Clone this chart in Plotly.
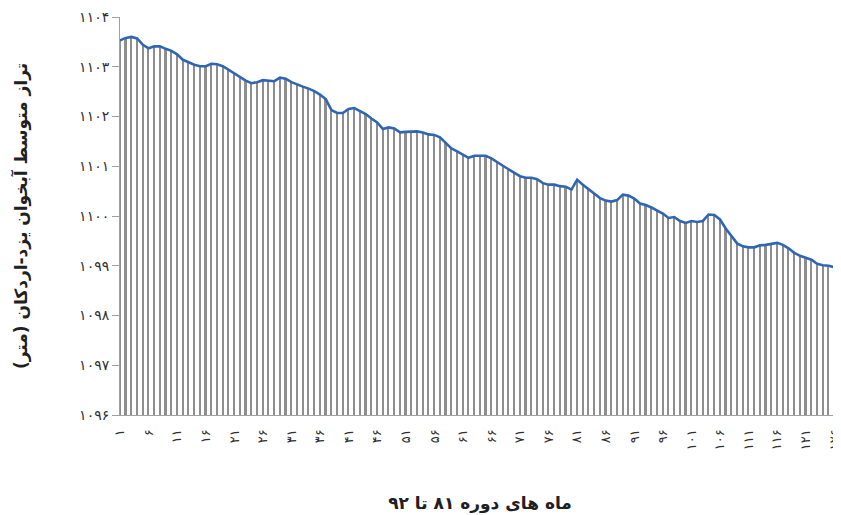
import plotly.graph_objects as go

months = list(range(1, 128))
levels = [
    1103.53, 1103.58, 1103.60, 1103.57, 1103.44, 1103.37, 1103.41, 1103.41, 1103.36, 1103.32,
    1103.25, 1103.14, 1103.09, 1103.04, 1103.01, 1103.01, 1103.06, 1103.05, 1103.01, 1102.94,
    1102.87, 1102.80, 1102.72, 1102.67, 1102.69, 1102.73, 1102.72, 1102.71, 1102.78, 1102.76,
    1102.69, 1102.64, 1102.60, 1102.56, 1102.51, 1102.44, 1102.35, 1102.13, 1102.07, 1102.07,
    1102.15, 1102.17, 1102.11, 1102.05, 1101.96, 1101.88, 1101.75, 1101.78, 1101.76, 1101.68,
    1101.69, 1101.69, 1101.70, 1101.68, 1101.64, 1101.63, 1101.58, 1101.47, 1101.36, 1101.30,
    1101.24, 1101.17, 1101.21, 1101.21, 1101.21, 1101.16, 1101.08, 1101.01, 1100.94, 1100.87,
    1100.80, 1100.77, 1100.77, 1100.74, 1100.66, 1100.63, 1100.63, 1100.60, 1100.59, 1100.53,
    1100.73, 1100.63, 1100.54, 1100.44, 1100.36, 1100.31, 1100.29, 1100.32, 1100.43, 1100.41,
    1100.35, 1100.25, 1100.22, 1100.17, 1100.11, 1100.05, 1099.96, 1099.98, 1099.90, 1099.86,
    1099.90, 1099.88, 1099.90, 1100.03, 1100.02, 1099.93, 1099.75, 1099.59, 1099.45, 1099.39,
    1099.37, 1099.37, 1099.41, 1099.42, 1099.44, 1099.46, 1099.42, 1099.35, 1099.26, 1099.20,
    1099.16, 1099.12, 1099.04, 1099.01, 1099.00, 1098.97, 1098.92,
]

fa_digits = str.maketrans("0123456789", "۰۱۲۳۴۵۶۷۸۹")
x_tick_vals = list(range(1, 127, 5))
x_tick_text = [str(v).translate(fa_digits) for v in x_tick_vals]
y_tick_vals = list(range(1096, 1105))
y_tick_text = [str(v).translate(fa_digits) for v in y_tick_vals]

y_title = "تراز متوسط آبخوان یزد-اردکان (متر)"
x_title = "ماه های دوره ۸۱ تا ۹۲"

fig = go.Figure()
fig.add_trace(go.Bar(
    x=months, y=levels, width=0.3,
    marker=dict(color="#8e8e8e", line=dict(width=0)),
    hoverinfo="skip",
))
fig.add_trace(go.Scatter(
    x=months, y=levels, mode="lines",
    line=dict(color="#2f66b3", width=2.6),
))

font = "DejaVu Sans"
fig.update_layout(
    width=841, height=515,
    margin=dict(l=112, r=9, t=9, b=108),
    paper_bgcolor="white", plot_bgcolor="white",
    showlegend=False, bargap=0,
    font=dict(family=font, color="#404040", size=12),
)
fig.update_xaxes(
    range=[1, 127], tickmode="array", tickvals=x_tick_vals, ticktext=x_tick_text,
    tickangle=-90, showgrid=False, zeroline=False, automargin=False,
    showline=True, linecolor="#a0a0a0", linewidth=1, ticks="",
    ticklabelstandoff=8,
    tickfont=dict(family=font, size=13, color="#303030"),
    title=dict(text="<b>" + x_title + "</b>", font=dict(family=font, size=17, color="#202020"), standoff=47),
)
fig.update_yaxes(
    range=[1096, 1104], tickmode="array", tickvals=y_tick_vals, ticktext=y_tick_text,
    showgrid=False, zeroline=False, automargin=False,
    showline=True, linecolor="#a0a0a0", linewidth=1,
    ticks="outside", ticklen=7, tickcolor="#a0a0a0",
    tickfont=dict(family=font, size=14, color="#303030"),
    title=dict(text="<b>" + y_title + "</b>", font=dict(family=font, size=17, color="#202020"), standoff=47),
)

fig.write_html("out.html")
